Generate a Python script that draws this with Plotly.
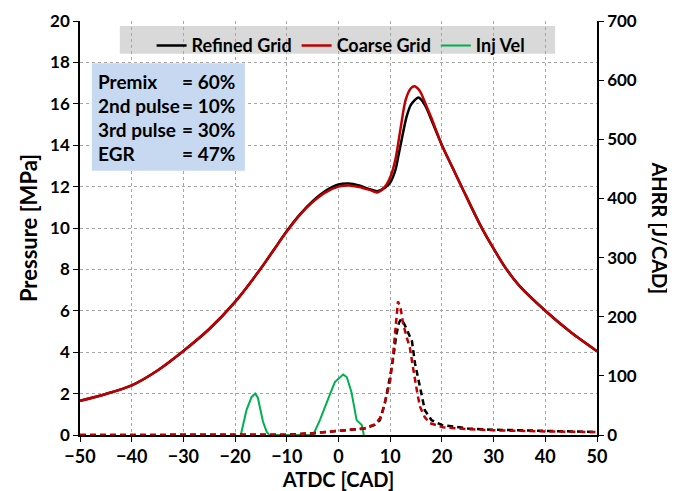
import plotly.graph_objects as go

# ---------------- data ----------------
cad_p_ref = [-50, -45, -40, -35, -30, -25, -20, -15, -12.5, -10, -7.5, -5, -2.5, 0, 2, 4, 6, 7.5, 9, 10, 11, 11.6, 12, 13.2, 14, 15.4, 16, 17, 18, 20, 22, 24, 27.5, 30, 32.5, 35, 40, 45, 50]
p_refined = [1.65, 1.98, 2.4, 3.12, 4.06, 5.12, 6.43, 8.05, 8.95, 9.85, 10.65, 11.3, 11.8, 12.1, 12.15, 12.05, 11.88, 11.78, 11.95, 12.2, 12.8, 13.5, 14.0, 15.4, 15.95, 16.3, 16.2, 15.8, 15.2, 14.0, 12.95, 11.9, 10.1, 9.0, 8.0, 7.2, 6.0, 4.95, 4.05]

cad_p_coarse = [-50, -45, -40, -35, -30, -25, -20, -15, -12.5, -10, -7.5, -5, -2.5, 0, 2, 4, 6, 7.5, 9, 10, 11, 12, 13, 14, 14.7, 15.5, 16, 17, 18, 20, 22, 24, 27.5, 30, 32.5, 35, 40, 45, 50]
p_coarse = [1.65, 1.98, 2.4, 3.12, 4.06, 5.12, 6.43, 8.05, 8.95, 9.83, 10.62, 11.25, 11.72, 12.0, 12.05, 11.98, 11.84, 11.72, 12.0, 12.45, 13.3, 14.8, 16.2, 16.75, 16.85, 16.7, 16.5, 15.9, 15.3, 14.0, 12.95, 11.9, 10.1, 9.0, 8.0, 7.2, 6.0, 4.95, 4.05]

cad_h_ref = [-50, -20, -10, -5, 0, 5, 7, 8, 9, 9.5, 10, 10.6, 11.2, 11.7, 12.1, 12.7, 13.3, 14.2, 14.8, 15.8, 16.7, 18, 20, 25, 30, 40, 50]
ahrr_refined = [0, 0, 0.5, 3, 7, 11, 17, 25, 55, 75, 100, 131, 170, 190, 196, 188, 176, 159, 121, 76, 42, 25, 17, 11, 9, 7, 5]

cad_h_coarse = [-50, -20, -10, -5, 0, 5, 7, 8, 8.6, 9.3, 10, 10.5, 11, 11.5, 12, 12.5, 13.2, 13.8, 14.3, 14.8, 15.3, 15.8, 16.7, 17.7, 20.2, 25, 30, 40, 50]
ahrr_coarse = [0, 0, 0.5, 3, 7, 11, 18, 28, 42, 65, 92, 130, 176, 226, 215, 188, 165, 148, 120, 92, 68, 47, 30, 20, 13, 10, 8, 6, 5]

cad_inj = [-18.9, -17.8, -16.8, -16.1, -15.6, -14.6, -13.9, -13.4, -4.9, -3.6, -1.6, -0.7, 0.9, 1.6, 2.5, 3.5, 4.5, 4.9]
inj_vel = [0, 1.2, 1.84, 2.0, 1.8, 0.64, 0.16, 0, 0, 0.72, 2.0, 2.56, 2.92, 2.8, 2.08, 0.72, 0.48, 0]

x_ticks = [-50, -40, -30, -20, -10, 0, 10, 20, 30, 40, 50]
p_ticks = [0, 2, 4, 6, 8, 10, 12, 14, 16, 18, 20]
h_ticks = [0, 100, 200, 300, 400, 500, 600, 700]

notes_lbl = ["Premix", "2nd pulse", "3rd pulse", "EGR"]
notes_val = ["= 60%", "= 10%", "= 30%", "= 47%"]

# ---------------- figure ----------------
FONT = "Lato"
BLACK = "#000000"
RED = "#c00000"
GREEN = "#00b050"

fig = go.Figure()

fig.add_trace(go.Scatter(x=cad_h_ref, y=ahrr_refined, yaxis="y2", mode="lines",
                         line=dict(color=BLACK, width=2.5, dash="6px,4px"), showlegend=False))
fig.add_trace(go.Scatter(x=cad_h_coarse, y=ahrr_coarse, yaxis="y2", mode="lines",
                         line=dict(color=RED, width=2.5, dash="6px,4px"), showlegend=False))
fig.add_trace(go.Scatter(x=cad_p_ref, y=p_refined, mode="lines", name="Refined Grid",
                         line=dict(color=BLACK, width=2.5, shape="spline", smoothing=0.8)))
fig.add_trace(go.Scatter(x=cad_p_coarse, y=p_coarse, mode="lines", name="Coarse Grid",
                         line=dict(color=RED, width=2.5, shape="spline", smoothing=0.8)))
fig.add_trace(go.Scatter(x=cad_inj, y=inj_vel, mode="lines", name="Inj Vel",
                         line=dict(color=GREEN, width=2)))

grid = dict(showgrid=True, gridcolor="#a6a6a6", griddash="dot", gridwidth=1)
tfont = dict(size=17, family=FONT, weight="bold")

# page body has an 8px margin; figure sized/margined so plot area lands at x 80-597, y ~21-435
fig.update_layout(
    width=667, height=483,
    margin=dict(l=72, r=78, t=13, b=56, autoexpand=False),
    paper_bgcolor="white", plot_bgcolor="white",
    font=dict(family=FONT, size=15, color=BLACK),
    xaxis=dict(range=[-50, 50], tickvals=x_ticks, ticks="outside", ticklen=5,
               tickcolor=BLACK, showline=True, linecolor=BLACK, linewidth=1.5,
               zeroline=False, tickfont=dict(size=18, family=FONT, weight="bold"),
               automargin=False, ticklabeloverflow="allow",
               title=dict(text="<b>ATDC [CAD]</b>", font=dict(size=20), standoff=3), **grid),
    yaxis=dict(range=[0, 20], tickvals=p_ticks, ticks="outside", ticklen=5,
               tickcolor=BLACK, showline=True, linecolor=BLACK, linewidth=1.5,
               zeroline=False, tickfont=tfont, automargin=False, ticklabeloverflow="allow",
               title=dict(text="<b>Pressure [MPa]</b>", font=dict(size=22), standoff=6), **grid),
    yaxis2=dict(range=[0, 700], tickvals=h_ticks, overlaying="y", side="right",
                ticks="outside", ticklen=5, tickcolor=BLACK, showline=True,
                linecolor=BLACK, linewidth=1.5, showgrid=False, zeroline=False,
                tickfont=tfont, automargin=False, ticklabeloverflow="allow"),
    legend=dict(orientation="h", x=0.505, xanchor="center", y=0.985, yanchor="top",
                bgcolor="rgba(0,0,0,0)", font=dict(size=18, family=FONT, weight="bold"),
                itemwidth=30, tracegroupgap=0),
    showlegend=True,
)

# legend background band
fig.add_shape(type="rect", xref="paper", yref="paper", x0=0.077, x1=0.919, y0=0.921, y1=0.988,
              fillcolor="#d9d9d9", line=dict(width=0), layer="below")

# AHRR title on right, reading top-to-bottom
fig.add_annotation(text="<b>AHRR [J/CAD]</b>", xref="paper", yref="paper",
                   x=1.121, xanchor="center", y=0.5, yanchor="middle", textangle=90,
                   showarrow=False, font=dict(size=20, family=FONT))

# info box
fig.add_shape(type="rect", xref="paper", yref="paper", x0=0.023, x1=0.319, y0=0.638, y1=0.898,
              fillcolor="#c6d9f0", line=dict(width=0), layer="above")
ys = [0.855, 0.797, 0.739, 0.681]
for lbl, val, yy in zip(notes_lbl, notes_val, ys):
    fig.add_annotation(text="<b>" + lbl + "</b>", xref="paper", yref="paper", x=0.031, y=yy,
                       xanchor="left", yanchor="middle", showarrow=False,
                       font=dict(size=19, family=FONT))
    fig.add_annotation(text="<b>" + val + "</b>", xref="paper", yref="paper", x=0.303, y=yy,
                       xanchor="right", yanchor="middle", showarrow=False,
                       font=dict(size=19, family=FONT))

fig.write_html("out.html")
